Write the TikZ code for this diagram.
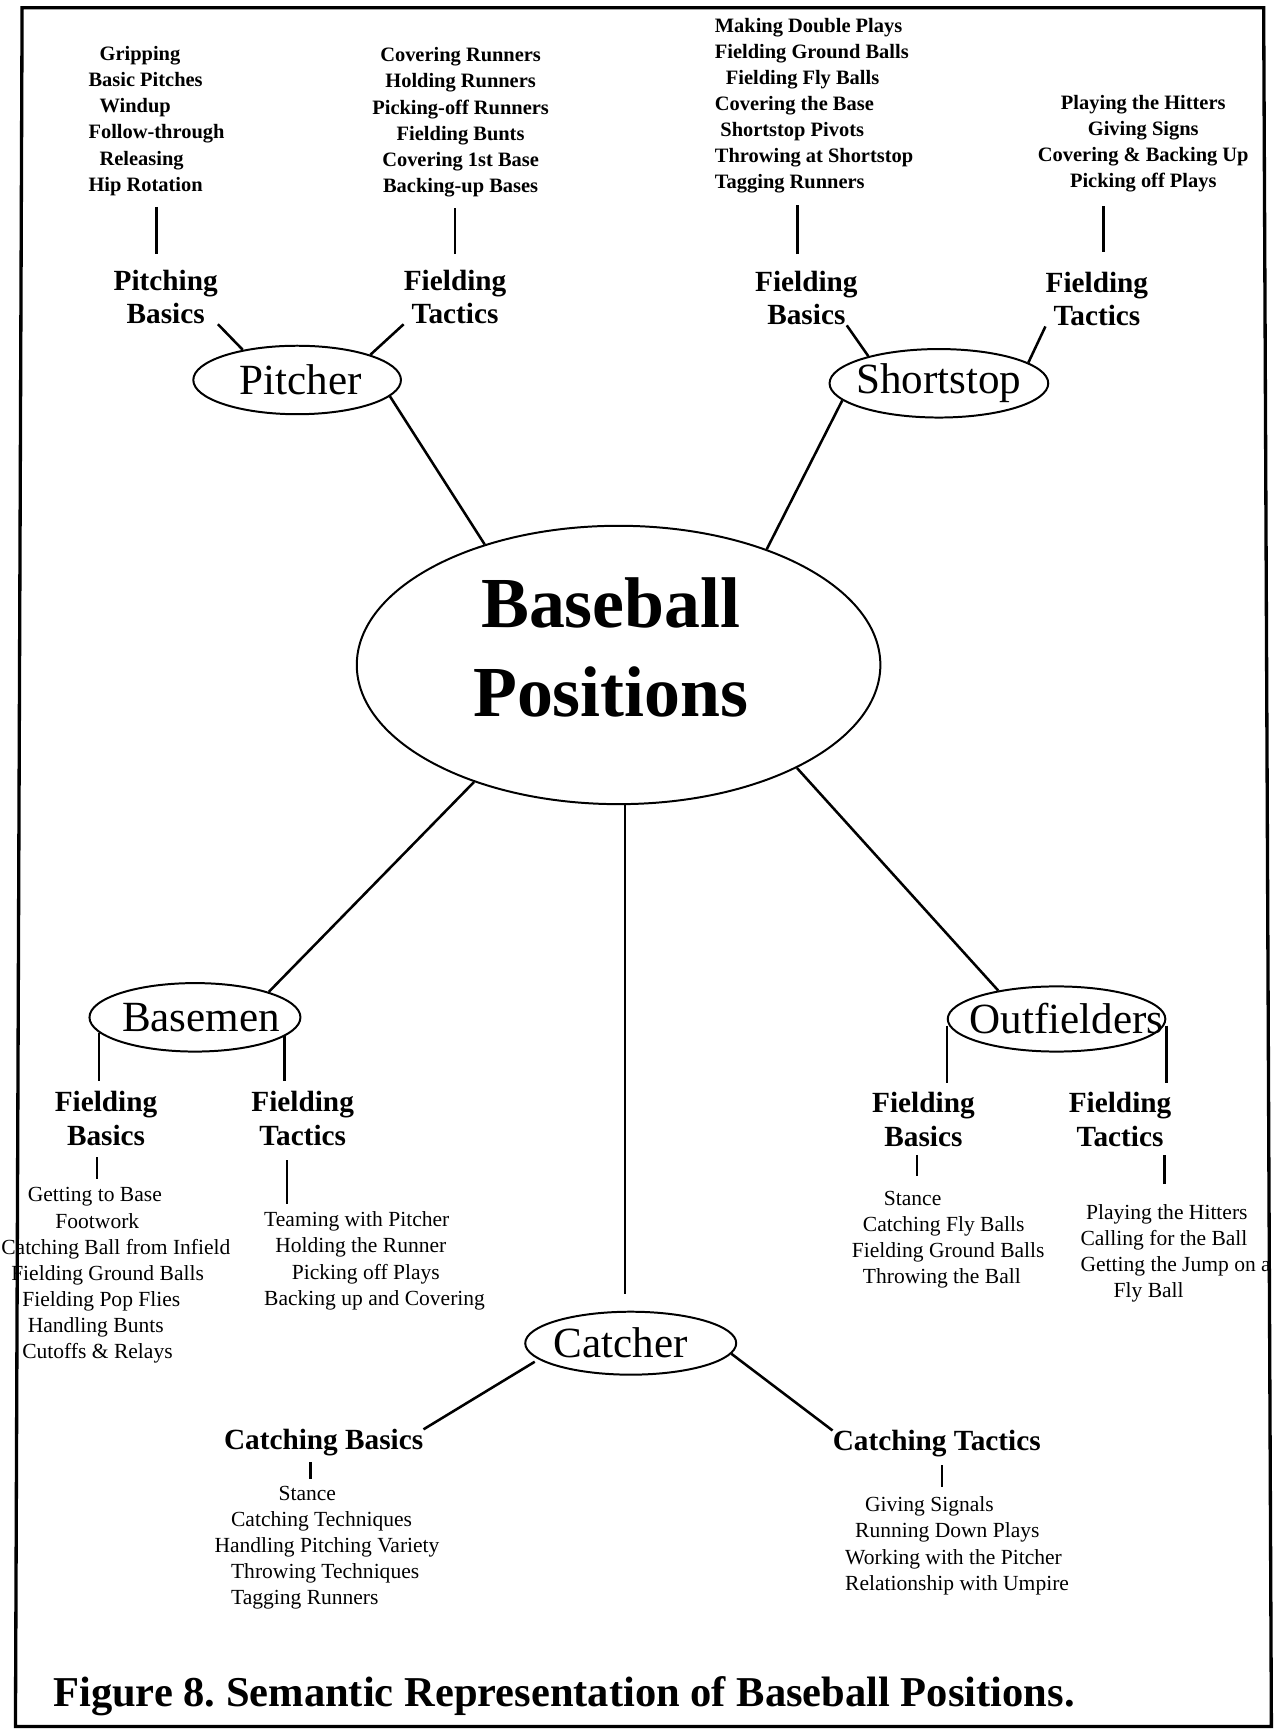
\documentclass[tikz,border=0pt]{standalone}
\usepackage{fontspec}
\setmainfont{Liberation Serif}
\usetikzlibrary{shapes.geometric}
\begin{document}
\begin{tikzpicture}[x=1pt, y=-1pt,
  every node/.style={inner sep=0pt},
  rolebox/.style={draw, ellipse, line width=1.8pt, minimum width=191pt,
    minimum height=60pt, font=\fontsize{39}{45}\selectfont},
  heading/.style={anchor=north, align=center,
    font=\fontsize{26.5}{30.5}\selectfont\bfseries},
  toplist/.style={font=\fontsize{18.5}{23.6}\selectfont\bfseries},
  sublist/.style={font=\fontsize{19.5}{23.6}\selectfont},
  link/.style={line width=2.3pt},
  stem/.style={line width=2.2pt}]
  \useasboundingbox (0,0) rectangle (1157,1568);
  \draw[line width=3pt] (20,7) -- (1144,7) -- (1151,1563) -- (14,1563) -- cycle;

  \node[draw, ellipse, line width=1.8pt, minimum width=474pt, minimum height=252pt] (hub) at (560,602) {};
  \node[align=center, font=\fontsize{65}{80}\selectfont\bfseries] (hubtitle) at (553,586) {Baseball\\Positions};

  \node[rolebox, minimum width=188pt, minimum height=62pt] (pitcher) at (269,344) {\makebox[0pt]{\hspace{6pt}Pitcher}};
  \node[rolebox, minimum width=198pt, minimum height=62pt] (shortstop) at (850,347) {\makebox[0pt]{Shortstop}};
  \node[rolebox, minimum height=62pt] (basemen) at (176.5,921) {\makebox[0pt]{\hspace{11pt}Basemen}};
  \node[rolebox, minimum width=197pt, minimum height=59pt] (outfielders) at (956.5,922.5) {\makebox[0pt]{\hspace{18pt}Outfielders}};
  \node[rolebox, minimum height=57pt] (catcher) at (571,1216) {\makebox[0pt]{Catcher\hspace{18pt}}};

  \node[heading] (pblabel) at (150,244) {Pitching\\Basics};
  \node[heading] (ptlabel) at (412,244) {Fielding\\Tactics};
  \node[heading] (ssblabel) at (730,245) {Fielding\\Basics};
  \node[heading] (sstlabel) at (993,246) {Fielding\\Tactics};
  \node[heading] (bfblabel) at (96,988) {Fielding\\Basics};
  \node[heading] (bftlabel) at (274,988) {Fielding\\Tactics};
  \node[heading] (ofblabel) at (836,989) {Fielding\\Basics};
  \node[heading] (oftlabel) at (1014,989) {Fielding\\Tactics};
  \node[heading] (cblabel) at (293,1294) {Catching Basics};
  \node[heading] (ctlabel) at (848,1295) {Catching Tactics};

  \node[toplist, anchor=north west, align=left] (pbitems) at (80,42)
    {\hspace{10pt}Gripping\\Basic Pitches\\\hspace{10pt}Windup\\Follow-through\\\hspace{10pt}Releasing\\Hip Rotation};
  \node[toplist, anchor=north, align=center] (ptitems) at (417,43)
    {Covering Runners\\Holding Runners\\Picking-off Runners\\Fielding Bunts\\Covering 1st Base\\Backing-up Bases};
  \node[toplist, anchor=north west, align=left] (ssbitems) at (647,16)
    {Making Double Plays\\Fielding Ground Balls\\\hspace{10pt}Fielding Fly Balls\\Covering the Base\\\hspace{5pt}Shortstop Pivots\\Throwing at Shortstop\\Tagging Runners};
  \node[toplist, anchor=north, align=center] (sstitems) at (1035,86)
    {Playing the Hitters\\Giving Signs\\Covering \& Backing Up\\Picking off Plays};
  \node[sublist, anchor=north west, align=left] (bfbitems) at (1,1075)
    {\hspace{24pt}Getting to Base\\\hspace{49pt}Footwork\\Catching Ball from Infield\\\hspace{9pt}Fielding Ground Balls\\\hspace{19pt}Fielding Pop Flies\\\hspace{24pt}Handling Bunts\\\hspace{19pt}Cutoffs \& Relays};
  \node[sublist, anchor=north west, align=left] (bftitems) at (239,1097)
    {Teaming with Pitcher\\\hspace{10pt}Holding the Runner\\\hspace{25pt}Picking off Plays\\Backing up and Covering};
  \node[sublist, anchor=north west, align=left] (ofbitems) at (771,1078)
    {\hspace{29pt}Stance\\\hspace{10pt}Catching Fly Balls\\Fielding Ground Balls\\\hspace{10pt}Throwing the Ball};
  \node[sublist, anchor=north west, align=left] (oftitems) at (978,1090)
    {\hspace{5pt}Playing the Hitters\\Calling for the Ball\\Getting the Jump on a\\\hspace{30pt}Fly Ball};
  \node[sublist, anchor=north west, align=left] (cbitems) at (194,1345)
    {\hspace{58pt}Stance\\\hspace{15pt}Catching Techniques\\Handling Pitching Variety\\\hspace{15pt}Throwing Techniques\\\hspace{15pt}Tagging Runners};
  \node[sublist, anchor=north west, align=left] (ctitems) at (765,1355)
    {\hspace{18pt}Giving Signals\\\hspace{9pt}Running Down Plays\\Working with the Pitcher\\Relationship with Umpire};

  \node[anchor=base west, font=\fontsize{38.5}{44}\selectfont\bfseries] (caption) at (48,1545)
    {Figure 8.\ Semantic Representation of Baseball Positions.};

  \draw[link] (hub.138) -- (pitcher.-10);
  \draw[link] (hub.38.7) -- (shortstop.190);
  \draw[link] (hub.219) -- (basemen.19);
  \draw[link] (hub.-30) -- (outfielders.154);
  \draw[link, shorten >=15pt] ([xshift=-5pt]catcher.north |- hub.south) -- ([xshift=-5pt]catcher.north);

  \draw[link] (pblabel.south east) -- (pitcher.151);
  \draw[link] (ptlabel.south west) -- (pitcher.19);
  \draw[link] ([xshift=-10pt]ssblabel.south east) -- (shortstop.159);
  \draw[link] (sstlabel.south west) -- (shortstop.13);
  \draw[link, shorten <=4pt] (catcher.190) -- (cblabel.north east);
  \draw[link] (catcher.-6) -- (ctlabel.north west);

  \draw[stem, shorten >=9pt] (basemen.189) -- (basemen.189 |- bfblabel.north);
  \draw[stem, shorten >=9pt] (basemen.-12) -- (basemen.-12 |- bftlabel.north);
  \draw[stem, shorten <=6pt, shorten >=9pt] (outfielders.west) -- (outfielders.west |- ofblabel.north);
  \draw[stem, shorten <=6pt, shorten >=9pt] (outfielders.east) -- (outfielders.east |- oftlabel.north);

  \draw[stem, shorten <=10pt, shorten >=14pt] (pbitems.south) -- (pbitems.south |- pblabel.north);
  \draw[stem, shorten <=14pt, shorten >=10pt] (ptlabel.north) -- (ptlabel.north |- ptitems.south);
  \draw[stem, shorten <=15pt, shorten >=11pt] ([xshift=-8pt]ssblabel.north) -- ([xshift=-8pt]ssblabel.north |- ssbitems.south);
  \draw[stem, shorten <=18pt, shorten >=12pt] ([xshift=6pt]sstlabel.north) -- ([xshift=6pt]sstlabel.north |- sstitems.south);
  \draw[stem, shorten <=10pt, shorten >=8pt] ([xshift=-8pt]bfblabel.south) -- ([xshift=-8pt]bfblabel.south |- bfbitems.north);
  \draw[stem, shorten <=13pt, shorten >=7pt] ([xshift=-14pt]bftlabel.south) -- ([xshift=-14pt]bftlabel.south |- bftitems.north);
  \draw[stem, shorten <=5pt, shorten >=6pt] ([xshift=-12pt]cblabel.south) -- ([xshift=-12pt]cblabel.south |- cbitems.north);
  \draw[stem, shorten <=7pt, shorten >=9pt] ([xshift=5pt]ctlabel.south) -- ([xshift=5pt]ctlabel.south |- ctitems.north);
  \draw[stem, shorten <=7pt, shorten >=13pt] ([xshift=-6pt]ofblabel.south) -- ([xshift=-6pt]ofblabel.south |- ofbitems.north);
  \draw[stem, shorten <=18pt, shorten >=7pt] ([xshift=-10pt]oftitems.north) -- ([xshift=-10pt]oftitems.north |- oftlabel.south);
\end{tikzpicture}
\end{document}
